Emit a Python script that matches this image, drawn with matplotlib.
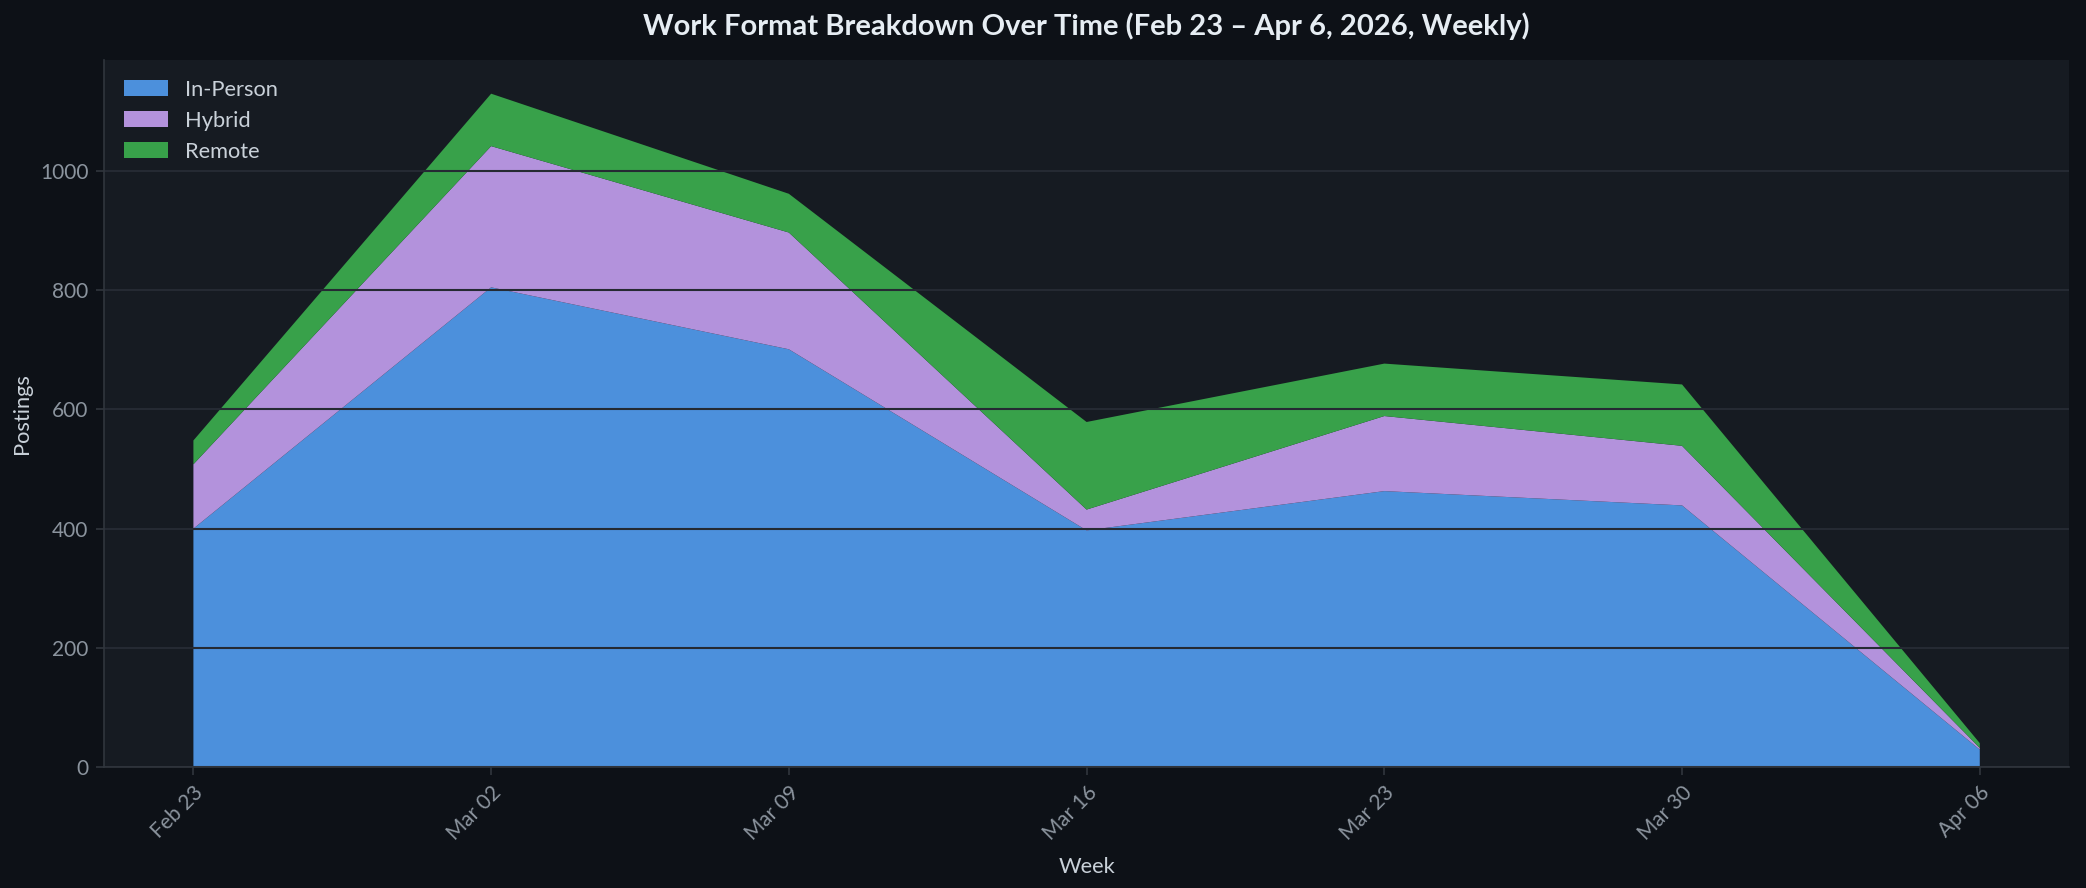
import matplotlib
matplotlib.use("Agg")
import matplotlib.pyplot as plt
import matplotlib.dates as mdates
import numpy as np
import pandas as pd

# weekly postings by work format
weeks = ["2026-02-23", "2026-03-02", "2026-03-09", "2026-03-16",
         "2026-03-23", "2026-03-30", "2026-04-06"]
in_person = [400, 805, 701, 397, 463, 439, 29]
hybrid = [108, 237, 196, 35, 126, 100, 3]
remote = [40, 88, 65, 147, 88, 103, 8]
labels = ["In-Person", "Hybrid", "Remote"]
colors = ["#4c90dc", "#b392dc", "#38a14a"]

BG = "#0d1117"
PANEL = "#161b22"
GRID = "#252a33"
SPINE = "#30363d"
TICK = "#8b949e"
TEXT = "#c9d1d9"

plt.rcParams["font.family"] = ["Lato", "DejaVu Sans"]

dates = pd.to_datetime(weeks)

fig = plt.figure(figsize=(2086 / 150, 888 / 150), dpi=150, facecolor=BG)
ax = fig.add_axes([0.0499, 0.1363, 0.942, 0.7961])
ax.set_facecolor(PANEL)

ax.stackplot(dates, in_person, hybrid, remote, labels=labels, colors=colors, linewidth=0)

ax.grid(axis="y", color=GRID, linewidth=1.0)
ax.set_yticks([0, 200, 400, 600, 800, 1000])
ax.set_xticks(dates)
ax.xaxis.set_major_formatter(mdates.DateFormatter("%b %d"))
plt.setp(ax.get_xticklabels(), rotation=45, ha="right", rotation_mode="anchor")

ax.tick_params(colors=TICK, labelsize=10, length=4)
ax.tick_params(axis="both", color=SPINE)
for s in ["top", "right"]:
    ax.spines[s].set_visible(False)
for s in ["left", "bottom"]:
    ax.spines[s].set_color(SPINE)

ax.set_xlabel("Week", color=TEXT, fontsize=10.5, labelpad=6)
ax.set_ylabel("Postings", color=TEXT, fontsize=10.5)
ax.set_title("Work Format Breakdown Over Time (Feb 23 \u2013 Apr 6, 2026, Weekly)",
             color="#e6edf3", fontsize=14, fontweight="bold", pad=12)

leg = ax.legend(loc="upper left", frameon=False, fontsize=10.5)
for t in leg.get_texts():
    t.set_color(TEXT)

fig.savefig("out.png", dpi=150, facecolor=BG)
